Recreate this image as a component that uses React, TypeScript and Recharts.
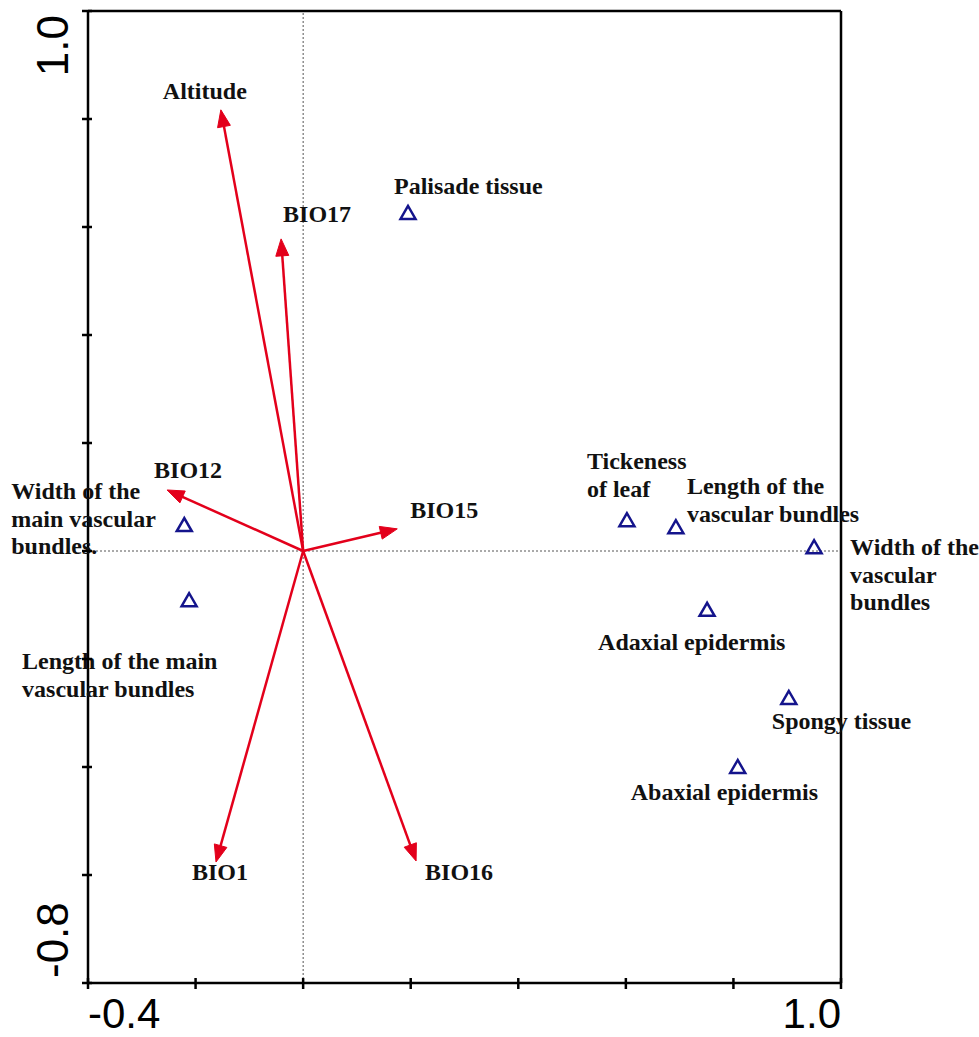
import { ScatterChart, Scatter, XAxis, YAxis, ReferenceLine } from "recharts";

// environmental variables (arrows), RDA axis 1 / axis 2 scores
const envNames = ["Altitude", "BIO17", "BIO12", "BIO15", "BIO1", "BIO16"];
const envAxis1 = [-0.153, -0.041, -0.253, 0.175, -0.162, 0.21];
const envAxis2 = [0.817, 0.578, 0.113, 0.041, -0.576, -0.574];

// leaf anatomical traits (triangles)
const traitNames = [
  "Palisade tissue",
  "Width of the main vascular bundles",
  "Length of the main vascular bundles",
  "Tickeness of leaf",
  "Length of the vascular bundles",
  "Width of the vascular bundles",
  "Adaxial epidermis",
  "Spongy tissue",
  "Abaxial epidermis",
];
const traitAxis1 = [0.195, -0.221, -0.212, 0.602, 0.693, 0.95, 0.751, 0.903, 0.808];
const traitAxis2 = [0.626, 0.048, -0.091, 0.057, 0.044, 0.007, -0.109, -0.272, -0.4];
const traitLabelLines = [
  ["Palisade tissue"],
  ["Width of the", "main vascular", "bundles."],
  ["Length of the main", "vascular bundles"],
  ["Tickeness", "of leaf"],
  ["Length of the", "vascular bundles"],
  ["Width of the", "vascular", "bundles"],
  ["Adaxial epidermis"],
  ["Spongy tissue"],
  ["Abaxial epidermis"],
];

const xTicks = [-0.4, -0.2, 0, 0.2, 0.4, 0.6, 0.8, 1.0];
const xTickLabels = ["-0.4", "", "", "", "", "", "", "1.0"];
const yTicks = [-0.8, -0.6, -0.4, -0.2, 0, 0.2, 0.4, 0.6, 0.8, 1.0];
const yTickLabels = ["-0.8", "", "", "", "", "", "", "", "", "1.0"];

// label placement, px from the mark
const envLabelOffset = [
  [-58, -11],
  [2, -17],
  [-13, -12],
  [13, -11],
  [-24, 18],
  [9, 19],
];
const traitLabelOffset = [
  [-14, -19],
  [-173, -26],
  [-167, 69],
  [-40, -51],
  [11, -33],
  [36, 8],
  [-109, 40],
  [-17, 31],
  [-107, 33],
];

const RED = "#e3001b";
const NAVY = "#14148c";
const SERIF = "'Liberation Serif', 'Times New Roman', serif";
const SANS = "'Liberation Sans', Arial, sans-serif";

const traitData = traitNames.map((name, i) => ({ x: traitAxis1[i], y: traitAxis2[i], name, i }));

function XTick(props: any) {
  const { x, y, payload } = props;
  const i = xTicks.indexOf(payload.value);
  const label = xTickLabels[i];
  return (
    <g>
      <line x1={x} x2={x} y1={y - 5} y2={y + 6} stroke="#000" strokeWidth={2.5} />
      {label ? (
        <text x={x} y={y + 45} textAnchor={i === xTicks.length - 1 ? "end" : "start"} fontSize={42} fontFamily={SANS} fill="#000">
          {label}
        </text>
      ) : null}
    </g>
  );
}

function YTick(props: any) {
  const { x, y, payload } = props;
  const i = yTicks.indexOf(payload.value);
  const label = yTickLabels[i];
  const top = i === yTicks.length - 1;
  const ty = top ? y + 4 : y - 5;
  return (
    <g>
      <line x1={x - 6} x2={x + 4} y1={y} y2={y} stroke="#000" strokeWidth={2.5} />
      {label ? (
        <text x={x - 20} y={ty} transform={`rotate(-90 ${x - 20} ${ty})`} textAnchor={top ? "end" : "start"} fontSize={44} fontFamily={SANS} fill="#000">
          {label}
        </text>
      ) : null}
    </g>
  );
}

function arrowShape(i: number) {
  return (props: any) => {
    const { x1, y1, x2, y2 } = props;
    const dx = x2 - x1;
    const dy = y2 - y1;
    const len = Math.sqrt(dx * dx + dy * dy);
    const ux = dx / len;
    const uy = dy / len;
    const head = 17;
    const half = 6.5;
    const bx = x2 - ux * head;
    const by = y2 - uy * head;
    const pts = `${x2},${y2} ${bx - uy * half},${by + ux * half} ${bx + uy * half},${by - ux * half}`;
    const [ox, oy] = envLabelOffset[i];
    return (
      <g>
        <line x1={x1} y1={y1} x2={bx + ux * 2} y2={by + uy * 2} stroke={RED} strokeWidth={2.5} />
        <polygon points={pts} fill={RED} stroke={RED} strokeWidth={1} />
        <text x={x2 + ox} y={y2 + oy} fontSize={24} fontWeight="bold" fontFamily={SERIF} fill="#111">
          {envNames[i]}
        </text>
      </g>
    );
  };
}

function TraitMark(props: any) {
  const { cx, cy, payload } = props;
  const i = payload.i;
  const [ox, oy] = traitLabelOffset[i];
  return (
    <g>
      <polygon
        points={`${cx},${cy - 7} ${cx - 7.5},${cy + 6} ${cx + 7.5},${cy + 6}`}
        fill="none"
        stroke={NAVY}
        strokeWidth={2.5}
      />
      <text x={cx + ox} y={cy + oy} fontSize={24} fontWeight="bold" fontFamily={SERIF} fill="#111">
        {traitLabelLines[i].map((line, k) => (
          <tspan key={k} x={cx + ox} dy={k === 0 ? 0 : 27.5}>
            {line}
          </tspan>
        ))}
      </text>
    </g>
  );
}

export default function App() {
  return (
    <div style={{ position: "absolute", left: 0, top: 0, background: "#fff" }}>
      <ScatterChart width={979} height={1037} margin={{ top: 11, right: 138, bottom: 0, left: 0 }}>
        <XAxis
          type="number"
          dataKey="x"
          domain={[-0.4, 1.0]}
          ticks={xTicks}
          interval={0}
          height={54}
          tickSize={0}
          tickMargin={0}
          tickLine={false}
          axisLine={{ stroke: "#000", strokeWidth: 2.5 }}
          tick={<XTick />}
        />
        <YAxis
          type="number"
          dataKey="y"
          domain={[-0.8, 1.0]}
          ticks={yTicks}
          interval={0}
          width={88}
          tickSize={0}
          tickMargin={0}
          tickLine={false}
          axisLine={{ stroke: "#000", strokeWidth: 2.5 }}
          tick={<YTick />}
        />
        <ReferenceLine x={0} stroke="#555" strokeWidth={1} strokeDasharray="2 2" />
        <ReferenceLine y={0} stroke="#555" strokeWidth={1} strokeDasharray="2 2" />
        {envNames.map((name, i) => (
          <ReferenceLine
            key={name}
            segment={[
              { x: 0, y: 0 },
              { x: envAxis1[i], y: envAxis2[i] },
            ]}
            shape={arrowShape(i)}
          />
        ))}
        <Scatter data={traitData} shape={<TraitMark />} isAnimationActive={false} />
        <ReferenceLine y={1.0} stroke="#000" strokeWidth={2.5} />
        <ReferenceLine x={1.0} stroke="#000" strokeWidth={2.5} />
      </ScatterChart>
    </div>
  );
}
